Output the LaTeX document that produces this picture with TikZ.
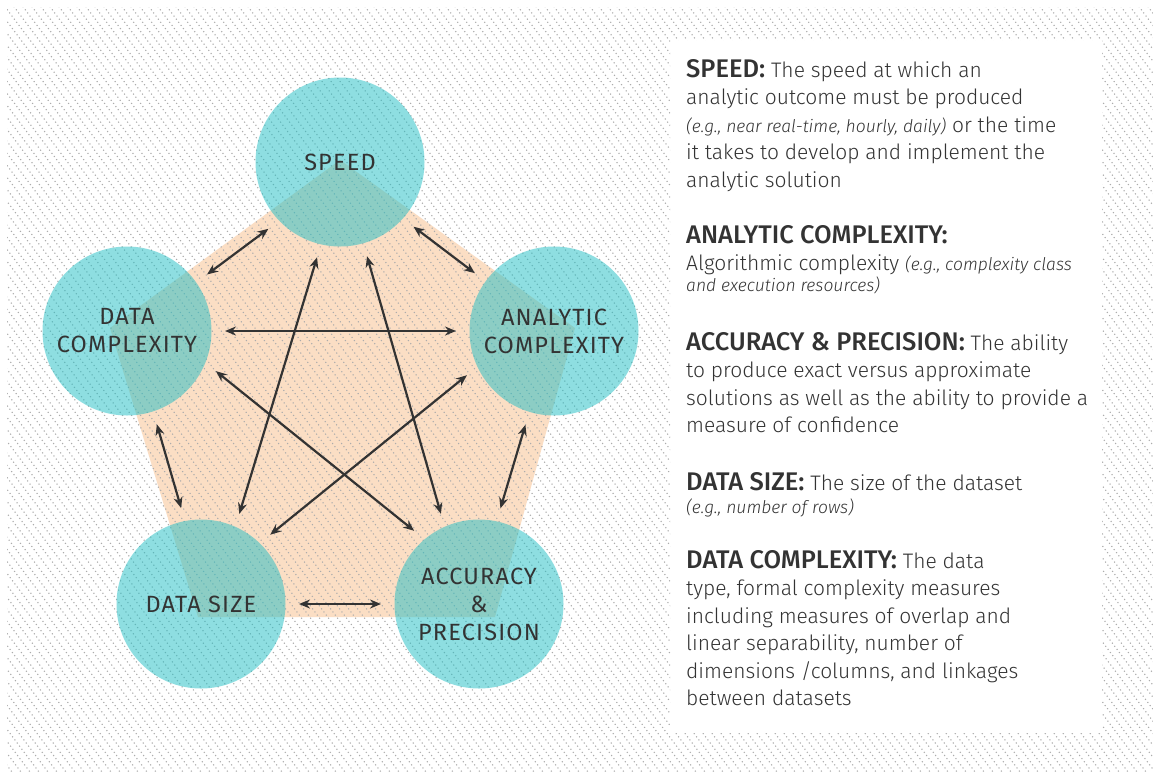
\documentclass[tikz,border=0pt]{standalone}
\usepackage{fontspec}
\setmainfont{Fira Sans}[UprightFont=* Light, BoldFont=* Medium, ItalicFont=* Light Italic, BoldItalicFont=* Medium Italic]
\newfontfamily\labelfont{Fira Sans}[LetterSpace=5]
\usepackage{tikz}
\usetikzlibrary{arrows.meta}

\definecolor{pentorange}{RGB}{251,222,196}
\definecolor{circteal}{RGB}{30,190,196}
\definecolor{inkgray}{RGB}{51,51,51}
\definecolor{hatchgray}{RGB}{172,172,172}

\newcommand{\hd}[1]{{\fontsize{25.5}{27.5}\selectfont\bfseries #1}}
\newcommand{\eg}[1]{{\fontsize{17.5}{20}\selectfont\itshape #1}}

\begin{document}
\begin{tikzpicture}[x=1pt, y=-1pt,
  factor/.style={circle, minimum size=169pt, inner sep=0pt, outer sep=0pt, fill=circteal, fill opacity=0.5, text opacity=1, text=inkgray, align=center, font=\labelfont\fontsize{23.5}{28}\selectfont},
  link/.style={<->, >={Stealth[length=11pt,width=9pt]}, line width=2.2pt, draw=inkgray, shorten <=13.5pt, shorten >=13.5pt},
  hatch/.style={draw=hatchgray, line width=1.1pt, dash pattern=on 1.1pt off 2.8pt},
  blurb/.style={anchor=north west, inner sep=0pt, align=left, text=inkgray, font=\fontsize{21}{27.5}\selectfont}]
			\fill[white] (0,0) rectangle (1153,772);
			\useasboundingbox (0,0) rectangle (1153,772);
			% pentagon behind the circles
			\fill[pentorange] (340,160) -- (575,328) -- (495,617) -- (198,617) -- (110,328) -- cycle;
			% dotted hatching, not over the text box
			\begin{scope}[even odd rule]
				\clip (7,7) rectangle (1153,772) (670,40) rectangle (1102,733);
				\foreach \k in {-68,...,129}
					\draw[hatch] (\k*9,0) -- ++(600,800);
			\end{scope}
			\node[factor] (speed) at (340,162) {SPEED};
			\node[factor] (dcomp) at (127,331) {DATA\\COMPLEXITY};
			\node[factor] (acomp) at (554,331) {ANALYTIC\\COMPLEXITY};
			\node[factor] (dsize) at (201,604) {DATA SIZE};
			\node[factor] (accpr) at (479,604) {ACCURACY\\\&\\PRECISION};
			\draw[link] (speed.224) -- (dcomp.35);
			\draw[link] (speed.318) -- (acomp.144);
			\draw[link] (dcomp.0) -- (acomp.180);
			\draw[link] (speed.257) -- (dsize.66);
			\draw[link] (speed.286) -- (accpr.114);
			\draw[link] (dcomp.338) -- (accpr.130);
			\draw[link] (acomp.205) -- (dsize.46);
			\draw[link] (dcomp.288) -- (dsize.101);
			\draw[link] (acomp.253) -- (accpr.78);
			\draw[link] (dsize.0) -- (accpr.180);
			% text panel
			\node[blurb] (tspeed) at (686,59) {\hd{SPEED:} The speed at which an\\ analytic outcome must be produced\\ \eg{(e.g., near real-time, hourly, daily)} or the time\\ it takes to develop and implement the\\ analytic solution};
			\node[blurb] (tacomp) at (686,225) {\hd{ANALYTIC COMPLEXITY:}\\ Algorithmic complexity \eg{(e.g., complexity class}\\[-7pt] \eg{and execution resources)}};
			\node[blurb] (taccpr) at (686,332) {\hd{ACCURACY \& PRECISION:} The ability\\ to produce exact versus approximate\\ solutions as well as the ability to provide a\\ measure of confidence};
			\node[blurb] (tdsize) at (686,472) {\hd{DATA SIZE:} The size of the dataset\\[-4.5pt] \eg{(e.g., number of rows)}};
			\node[blurb] (tdcomp) at (686,550) {\hd{DATA COMPLEXITY:} The data\\ type, formal complexity measures\\ including measures of overlap and\\ linear separability, number of\\ dimensions /columns, and linkages\\ between datasets};
		\end{tikzpicture}
\end{document}
